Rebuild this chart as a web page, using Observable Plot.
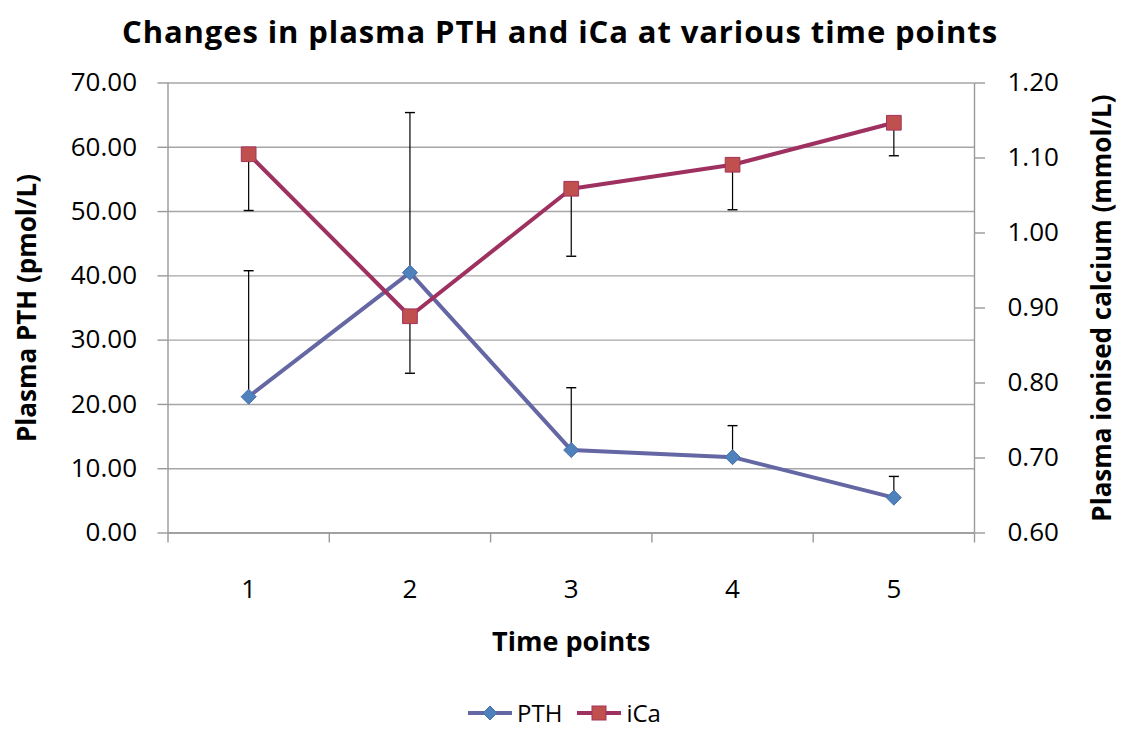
<!DOCTYPE html>
<html>
<head>
<meta charset="utf-8">
<script src="https://cdn.jsdelivr.net/npm/d3@7"></script>
<script src="https://cdn.jsdelivr.net/npm/@observablehq/plot@0.6"></script>
<style>
  html, body { margin: 0; padding: 0; background: #fff; }
  body { width: 1128px; height: 736px; position: relative; font-family: "Open Sans", sans-serif; overflow: hidden; }
  #title { position: absolute; left: 0; top: 9px; width: 1120px; text-align: center; font-weight: bold; font-size: 31px; letter-spacing: 0.9px; line-height: 44px; color: #000; }
  #chart { position: absolute; left: 0; top: 60px; }
  #legend { position: absolute; left: 0; top: 696px; width: 1128px; display: flex; justify-content: center; align-items: center; font-size: 24px; color: #000; gap: 14px; }
  .item { display: flex; align-items: center; gap: 4px; }
</style>
</head>
<body>
<div id="title">Changes in plasma PTH and iCa at various time points</div>
<div id="chart"></div>
<div id="legend"></div>
<script>
// ---- data ----
const timePoints = [1, 2, 3, 4, 5];
const pthMean = [21.2, 40.5, 12.9, 11.8, 5.5];
const pthErr  = [19.6, 24.9, 9.7, 4.9, 3.3];
const icaMean = [1.105, 0.889, 1.059, 1.091, 1.147];
const icaErr  = [0.075, 0.076, 0.090, 0.060, 0.044];
const pthTicks = [0, 10, 20, 30, 40, 50, 60, 70];
const icaTicks = [0.6, 0.7, 0.8, 0.9, 1.0, 1.1, 1.2];
const xBounds = [0.5, 1.5, 2.5, 3.5, 4.5, 5.5];
const seriesNames = ["PTH", "iCa"];

// ---- styling ----
const pthLine = "#6467a3", pthFill = "#4f81bd", pthEdge = "#4a6fa8";
const icaLine = "#9e3160", icaFill = "#c0504d", icaEdge = "#a3335f";
const gridColor = "#a6a6a6", axisColor = "#999999";

// map iCa (0.6..1.2) onto PTH scale (0..70)
const toP = v => (v - 0.6) / 0.6 * 70;
const fromP = p => p / 70 * 0.6 + 0.6;

const pth = timePoints.map((t, i) => ({t, v: pthMean[i], e: pthErr[i]}));
const ica = timePoints.map((t, i) => ({t, v: icaMean[i], e: icaErr[i]}));

const capSymbol = {
  draw(ctx, size) {
    const w = Math.sqrt(size / Math.PI);
    ctx.moveTo(-w, 0);
    ctx.lineTo(w, 0);
  }
};

const plot = Plot.plot({
  width: 1128,
  height: 620,
  marginLeft: 167.5,
  marginRight: 154,
  marginTop: 22.5,
  marginBottom: 147.5,
  style: {fontFamily: "Open Sans, sans-serif", fontSize: "26px", color: "#000", background: "transparent", overflow: "visible"},
  x: {type: "linear", domain: [0.5, 5.5]},
  y: {type: "linear", domain: [0, 70]},
  marks: [
    Plot.gridY(pthTicks, {stroke: gridColor, strokeOpacity: 1, strokeWidth: 1.4}),
    Plot.ruleX([0.5, 5.5], {stroke: axisColor, strokeWidth: 1.4}),
    Plot.ruleY([0], {stroke: axisColor, strokeWidth: 1.4}),
    Plot.axisY(pthTicks, {anchor: "left", tickSize: 10, tickPadding: 21, tickFormat: d => d.toFixed(2), fontSize: 26, stroke: axisColor, fill: "#000", strokeWidth: 1.4, label: null}),
    Plot.axisY(icaTicks.map(toP), {anchor: "right", tickSize: 10, tickPadding: 23, tickFormat: d => fromP(d).toFixed(2), fontSize: 26, stroke: axisColor, fill: "#000", strokeWidth: 1.4, label: null}),
    Plot.axisX(xBounds, {anchor: "bottom", tickSize: 10, tickFormat: () => "", stroke: axisColor, strokeWidth: 1.4, label: null}),
    Plot.axisX(timePoints, {anchor: "bottom", tickSize: 0, tickPadding: 47, tickFormat: d => String(d), fontSize: 26, fill: "#000", label: null}),
    // axis titles
    Plot.text(["Time points"], {text: d => d, frameAnchor: "bottom", textAnchor: "middle", dy: 118, fontSize: 27, fontWeight: "bold", fill: "#000"}),
    Plot.text(["Plasma PTH (pmol/L)"], {text: d => d, frameAnchor: "left", textAnchor: "middle", dx: -140, rotate: -90, fontSize: 26, fontWeight: "bold", fill: "#000"}),
    Plot.text(["Plasma ionised calcium (mmol/L)"], {text: d => d, frameAnchor: "right", textAnchor: "middle", dx: 128, rotate: -90, fontSize: 26, fontWeight: "bold", fill: "#000"}),
    // lines
    Plot.line(pth, {x: "t", y: "v", stroke: pthLine, strokeWidth: 4}),
    Plot.line(ica, {x: "t", y: d => toP(d.v), stroke: icaLine, strokeWidth: 4}),
    // error bars
    Plot.ruleX(pth, {x: "t", y1: "v", y2: d => d.v + d.e, stroke: "#000", strokeWidth: 1.2}),
    Plot.dot(pth, {x: "t", y: d => d.v + d.e, symbol: capSymbol, r: 5, stroke: "#000", strokeWidth: 1.4, fill: "none"}),
    Plot.ruleX(ica, {x: "t", y1: d => toP(d.v), y2: d => toP(d.v - d.e), stroke: "#000", strokeWidth: 1.2}),
    Plot.dot(ica, {x: "t", y: d => toP(d.v - d.e), symbol: capSymbol, r: 5, stroke: "#000", strokeWidth: 1.4, fill: "none"}),
    // markers
    Plot.dot(pth, {x: "t", y: "v", symbol: "diamond2", r: 6.8, fill: pthFill, stroke: pthEdge, strokeWidth: 1}),
    Plot.dot(ica, {x: "t", y: d => toP(d.v), symbol: "square", r: 8.3, fill: icaFill, stroke: icaEdge, strokeWidth: 1})
  ]
});
document.getElementById("chart").appendChild(plot);

// legend
const legend = d3.select("#legend");
const legendStyles = [
  {line: pthLine, fill: pthFill, edge: pthEdge, shape: "diamond"},
  {line: icaLine, fill: icaFill, edge: icaEdge, shape: "square"}
];
seriesNames.forEach((name, i) => {
  const s = legendStyles[i];
  const item = legend.append("div").attr("class", "item");
  const svg = item.append("svg").attr("width", 46).attr("height", 20);
  svg.append("line").attr("x1", 1).attr("x2", 45).attr("y1", 10).attr("y2", 10).attr("stroke", s.line).attr("stroke-width", 4);
  if (s.shape === "diamond") {
    svg.append("path").attr("d", "M23,3 L30,10 L23,17 L16,10 Z").attr("fill", s.fill).attr("stroke", s.edge);
  } else {
    svg.append("rect").attr("x", 16).attr("y", 3).attr("width", 14).attr("height", 14).attr("fill", s.fill).attr("stroke", s.edge);
  }
  item.append("span").text(name);
});
</script>
</body>
</html>
